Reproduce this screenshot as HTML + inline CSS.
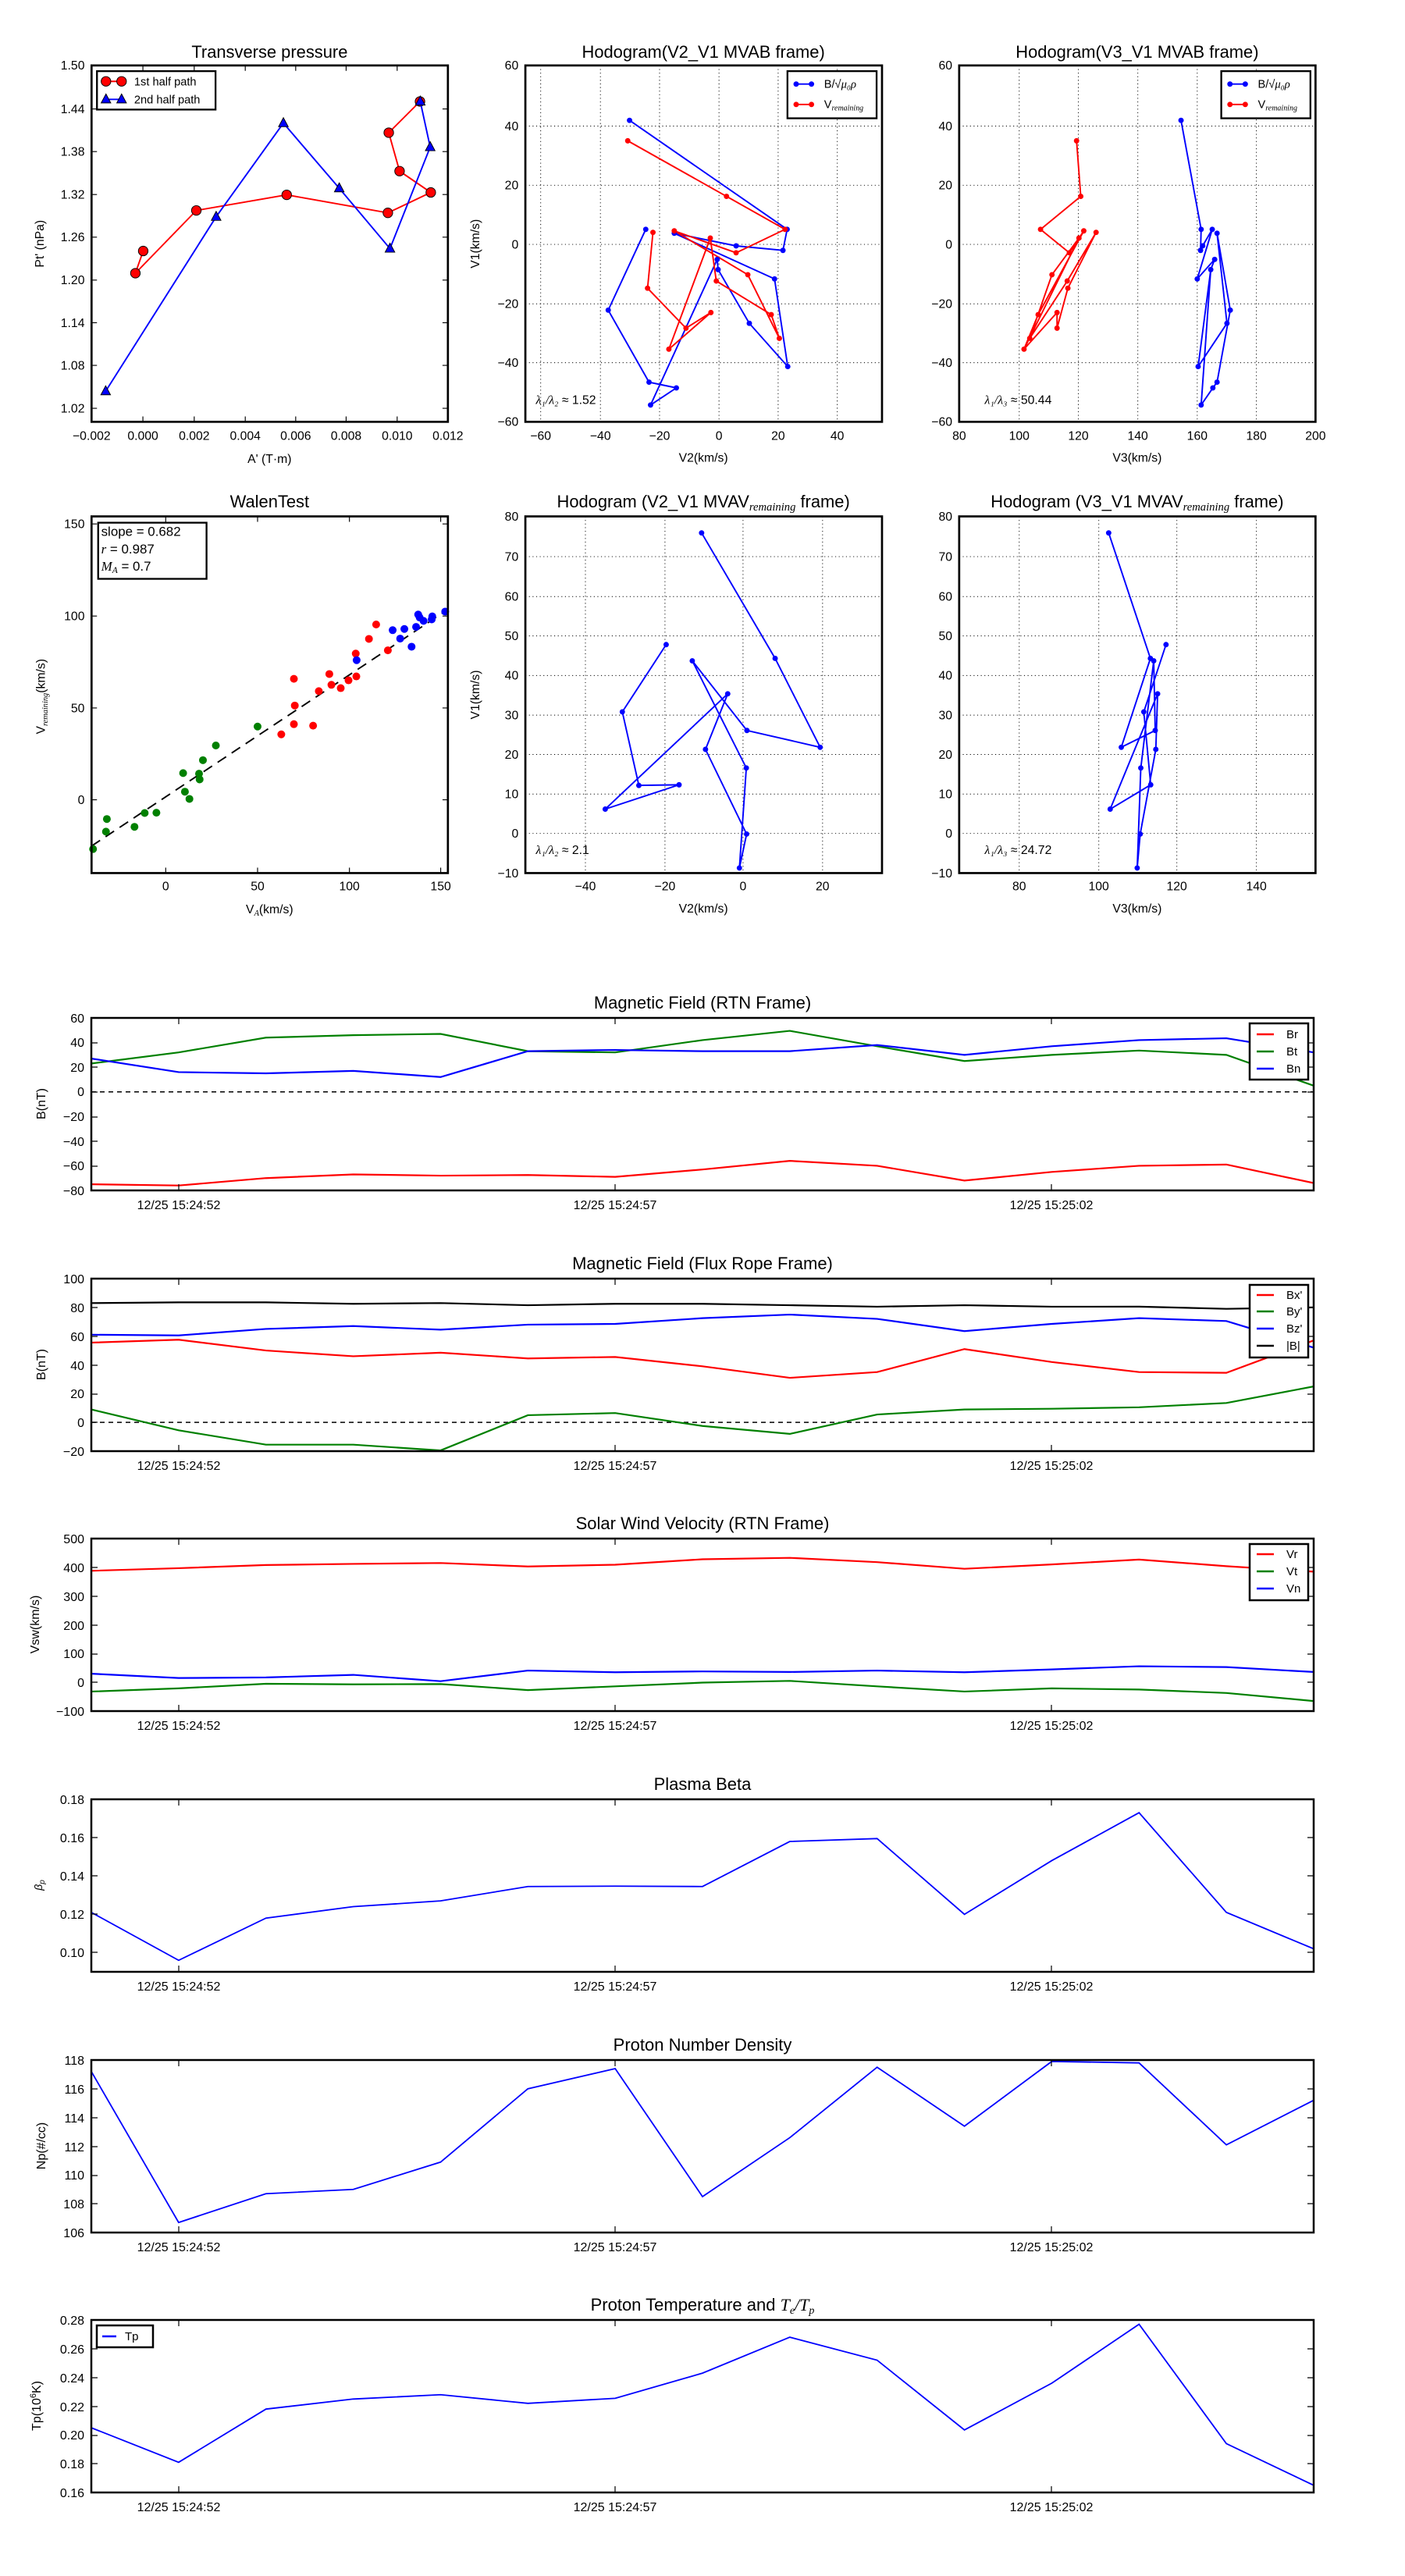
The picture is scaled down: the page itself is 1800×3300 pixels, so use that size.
<!DOCTYPE html>
<html><head><meta charset="utf-8"><style>
html,body{margin:0;padding:0;background:#fff}
svg{display:block}
text{font-family:"Liberation Sans","DejaVu Sans",sans-serif;fill:#000}
</style></head><body>
<svg width="1800" height="3300" viewBox="0 0 1800 3300" xmlns="http://www.w3.org/2000/svg">
<rect width="1800" height="3300" fill="#fff"/>

<!-- ===== Panel 1: Transverse pressure ===== -->
<g transform="translate(0,0) scale(0.3846)">
<text x="898" y="192" font-size="57" text-anchor="middle">Transverse pressure</text>
<g stroke="#000" stroke-width="3">
<path d="M305 363h18M305 505h18M305 648h18M305 790h18M305 933h18M305 1075h18M305 1217h18M305 1360h18M1492 363h-18M1492 505h-18M1492 648h-18M1492 790h-18M1492 933h-18M1492 1075h-18M1492 1217h-18M1492 1360h-18"/>
<path d="M476 1405v-18M647 1405v-18M817 1405v-18M985 1405v-18M1153 1405v-18M1323 1405v-18M476 218v18M647 218v18M817 218v18M985 218v18M1153 218v18M1323 218v18"/>
</g>
<g font-size="41" text-anchor="end">
<text x="282" y="232">1.50</text><text x="282" y="377">1.44</text><text x="282" y="519">1.38</text><text x="282" y="662">1.32</text><text x="282" y="804">1.26</text><text x="282" y="947">1.20</text><text x="282" y="1089">1.14</text><text x="282" y="1231">1.08</text><text x="282" y="1374">1.02</text>
</g>
<g font-size="41" text-anchor="middle">
<text x="305" y="1465">−0.002</text><text x="476" y="1465">0.000</text><text x="647" y="1465">0.002</text><text x="817" y="1465">0.004</text><text x="985" y="1465">0.006</text><text x="1153" y="1465">0.008</text><text x="1323" y="1465">0.010</text><text x="1492" y="1465">0.012</text>
<text x="898" y="1542">A' (T·m)</text>
<text transform="translate(145,812) rotate(-90)">Pt' (nPa)</text>
</g>
<polyline fill="none" stroke="#f00" stroke-width="5" points="477,836 451,910 654,701 955,649 1292,709 1435,641 1331,570 1295,442 1399,338"/>
<g fill="#f00" stroke="#000" stroke-width="2.5">
<circle cx="477" cy="836" r="16"/><circle cx="451" cy="910" r="16"/><circle cx="654" cy="701" r="16"/><circle cx="955" cy="649" r="16"/><circle cx="1292" cy="709" r="16"/><circle cx="1435" cy="641" r="16"/><circle cx="1331" cy="570" r="16"/><circle cx="1295" cy="442" r="16"/><circle cx="1399" cy="338" r="16"/>
</g>
<polyline fill="none" stroke="#00f" stroke-width="5" points="352,1303 720,722 944,410 1130,627 1299,828 1433,490 1400,338"/>
<g fill="#00f" stroke="#000" stroke-width="2.5">
<path d="M352 1285l16 30h-32z"/><path d="M720 704l16 30h-32z"/><path d="M944 392l16 30h-32z"/><path d="M1130 609l16 30h-32z"/><path d="M1299 810l16 30h-32z"/><path d="M1433 472l16 30h-32z"/><path d="M1400 320l16 30h-32z"/>
</g>
<rect x="323" y="237" width="395" height="128" fill="#fff" stroke="#000" stroke-width="6"/>
<path d="M353 271H405" stroke="#f00" stroke-width="5"/>
<circle cx="353" cy="271" r="16" fill="#f00" stroke="#000" stroke-width="2.5"/><circle cx="405" cy="271" r="16" fill="#f00" stroke="#000" stroke-width="2.5"/>
<path d="M353 331H405" stroke="#00f" stroke-width="5"/>
<path d="M353 313l16 30h-32z" fill="#00f" stroke="#000" stroke-width="2.5"/><path d="M405 313l16 30h-32z" fill="#00f" stroke="#000" stroke-width="2.5"/>
<text x="447" y="285" font-size="38">1st half path</text>
<text x="447" y="345" font-size="38">2nd half path</text>
<rect x="305" y="218" width="1187" height="1187" fill="none" stroke="#000" stroke-width="7"/>
</g>

<!-- ===== Panel 2: Hodogram V2_V1 MVAB ===== -->
<g transform="translate(600,0) scale(0.3846)">
<text x="783" y="192" font-size="57" text-anchor="middle">Hodogram(V2_V1 MVAB frame)</text>
<g stroke="#000" stroke-width="2.5" stroke-dasharray="3 9">
<path d="M241 218V1405M440 218V1405M637 218V1405M835 218V1405M1032 218V1405M1229 218V1405"/>
<path d="M190 420H1378M190 617H1378M190 814H1378M190 1012H1378M190 1208H1378"/>
</g>
<g font-size="41" text-anchor="end">
<text x="167" y="232">60</text><text x="167" y="434">40</text><text x="167" y="631">20</text><text x="167" y="828">0</text><text x="167" y="1026">−20</text><text x="167" y="1222">−40</text><text x="167" y="1419">−60</text>
</g>
<g font-size="41" text-anchor="middle">
<text x="241" y="1465">−60</text><text x="440" y="1465">−40</text><text x="637" y="1465">−20</text><text x="835" y="1465">0</text><text x="1032" y="1465">20</text><text x="1229" y="1465">40</text>
<text x="783" y="1538">V2(km/s)</text>
<text transform="translate(36,812) rotate(-90)">V1(km/s)</text>
</g>
<g fill="none" stroke-width="5">
<polyline stroke="#00f" points="537,401 1062,764 1048,834 892,819 686,777 1020,929 1064,1221 936,1077 832,898 829,864 607,1349 693,1292 602,1273 466,1033 591,764"/>
<polyline stroke="#f00" points="531,469 860,654 1055,764 892,842 686,769 931,915 1036,1127 1009,1048 826,936 806,793 668,1163 808,1041 725,1093 597,960 615,774"/>
</g>
<g fill="#00f"><circle cx="537" cy="401" r="9"/><circle cx="1062" cy="764" r="9"/><circle cx="1048" cy="834" r="9"/><circle cx="892" cy="819" r="9"/><circle cx="686" cy="777" r="9"/><circle cx="1020" cy="929" r="9"/><circle cx="1064" cy="1221" r="9"/><circle cx="936" cy="1077" r="9"/><circle cx="832" cy="898" r="9"/><circle cx="829" cy="864" r="9"/><circle cx="607" cy="1349" r="9"/><circle cx="693" cy="1292" r="9"/><circle cx="602" cy="1273" r="9"/><circle cx="466" cy="1033" r="9"/><circle cx="591" cy="764" r="9"/></g>
<g fill="#f00"><circle cx="531" cy="469" r="9"/><circle cx="860" cy="654" r="9"/><circle cx="1055" cy="764" r="9"/><circle cx="892" cy="842" r="9"/><circle cx="686" cy="769" r="9"/><circle cx="931" cy="915" r="9"/><circle cx="1036" cy="1127" r="9"/><circle cx="1009" cy="1048" r="9"/><circle cx="826" cy="936" r="9"/><circle cx="806" cy="793" r="9"/><circle cx="668" cy="1163" r="9"/><circle cx="808" cy="1041" r="9"/><circle cx="725" cy="1093" r="9"/><circle cx="597" cy="960" r="9"/><circle cx="615" cy="774" r="9"/></g>
<rect x="1063" y="237" width="297" height="157" fill="#fff" stroke="#000" stroke-width="6"/>
<path d="M1090 280H1145" stroke="#00f" stroke-width="5"/><circle cx="1092" cy="280" r="9" fill="#00f"/><circle cx="1143" cy="280" r="9" fill="#00f"/>
<path d="M1090 348H1145" stroke="#f00" stroke-width="5"/><circle cx="1092" cy="348" r="9" fill="#f00"/><circle cx="1143" cy="348" r="9" fill="#f00"/>
<text x="1185" y="292" font-size="38">B/√<tspan font-style="italic" font-family="Liberation Serif,serif">μ₀ρ</tspan></text>
<text x="1185" y="360" font-size="38">V<tspan font-size="26" font-style="italic" font-family="Liberation Serif,serif" dy="8">remaining</tspan></text>
<text x="225" y="1345" font-size="41"><tspan font-style="italic" font-family="Liberation Serif,serif">λ₁/λ₂</tspan> ≈ 1.52</text>
<rect x="190" y="218" width="1188" height="1187" fill="none" stroke="#000" stroke-width="7"/>
</g>

<!-- ===== Panel 3: Hodogram V3_V1 MVAB ===== -->
<g transform="translate(1200,0) scale(0.3846)">
<text x="668" y="192" font-size="57" text-anchor="middle">Hodogram(V3_V1 MVAB frame)</text>
<g stroke="#000" stroke-width="2.5" stroke-dasharray="3 9">
<path d="M275 218V1405M472 218V1405M670 218V1405M868 218V1405M1065 218V1405"/>
<path d="M75 420H1262M75 617H1262M75 814H1262M75 1012H1262M75 1208H1262"/>
</g>
<g font-size="41" text-anchor="end">
<text x="52" y="232">60</text><text x="52" y="434">40</text><text x="52" y="631">20</text><text x="52" y="828">0</text><text x="52" y="1026">−20</text><text x="52" y="1222">−40</text><text x="52" y="1419">−60</text>
</g>
<g font-size="41" text-anchor="middle">
<text x="75" y="1465">80</text><text x="275" y="1465">100</text><text x="472" y="1465">120</text><text x="670" y="1465">140</text><text x="868" y="1465">160</text><text x="1065" y="1465">180</text><text x="1262" y="1465">200</text>
<text x="668" y="1538">V3(km/s)</text>
</g>
<g fill="none" stroke-width="5">
<polyline stroke="#f00" points="466,469 480,654 346,764 442,842 490,769 338,1048 291,1163 474,793 384,915 310,1127 435,936 531,774 437,960 401,1093 401,1041 291,1163"/>
<polyline stroke="#00f" points="814,401 881,764 879,834 886,819 918,764 868,929 926,864 913,898 871,1221 967,1077 934,777 978,1033 934,1273 920,1292 881,1349 913,898"/>
</g>
<g fill="#f00"><circle cx="466" cy="469" r="9"/><circle cx="480" cy="654" r="9"/><circle cx="346" cy="764" r="9"/><circle cx="442" cy="842" r="9"/><circle cx="490" cy="769" r="9"/><circle cx="338" cy="1048" r="9"/><circle cx="291" cy="1163" r="9"/><circle cx="474" cy="793" r="9"/><circle cx="384" cy="915" r="9"/><circle cx="310" cy="1127" r="9"/><circle cx="435" cy="936" r="9"/><circle cx="531" cy="774" r="9"/><circle cx="437" cy="960" r="9"/><circle cx="401" cy="1093" r="9"/><circle cx="401" cy="1041" r="9"/></g>
<g fill="#00f"><circle cx="814" cy="401" r="9"/><circle cx="881" cy="764" r="9"/><circle cx="879" cy="834" r="9"/><circle cx="886" cy="819" r="9"/><circle cx="918" cy="764" r="9"/><circle cx="868" cy="929" r="9"/><circle cx="926" cy="864" r="9"/><circle cx="913" cy="898" r="9"/><circle cx="871" cy="1221" r="9"/><circle cx="967" cy="1077" r="9"/><circle cx="934" cy="777" r="9"/><circle cx="978" cy="1033" r="9"/><circle cx="934" cy="1273" r="9"/><circle cx="920" cy="1292" r="9"/><circle cx="881" cy="1349" r="9"/></g>
<rect x="948" y="237" width="297" height="157" fill="#fff" stroke="#000" stroke-width="6"/>
<path d="M975 280H1030" stroke="#00f" stroke-width="5"/><circle cx="977" cy="280" r="9" fill="#00f"/><circle cx="1028" cy="280" r="9" fill="#00f"/>
<path d="M975 348H1030" stroke="#f00" stroke-width="5"/><circle cx="977" cy="348" r="9" fill="#f00"/><circle cx="1028" cy="348" r="9" fill="#f00"/>
<text x="1070" y="292" font-size="38">B/√<tspan font-style="italic" font-family="Liberation Serif,serif">μ₀ρ</tspan></text>
<text x="1070" y="360" font-size="38">V<tspan font-size="26" font-style="italic" font-family="Liberation Serif,serif" dy="8">remaining</tspan></text>
<text x="160" y="1345" font-size="41"><tspan font-style="italic" font-family="Liberation Serif,serif">λ₁/λ₃</tspan> ≈ 50.44</text>
<rect x="75" y="218" width="1187" height="1187" fill="none" stroke="#000" stroke-width="7"/>
</g>

<!-- ===== Panel 4: WalenTest ===== -->
<g transform="translate(0,600) scale(0.3846)">
<text x="898" y="130" font-size="57" text-anchor="middle">WalenTest</text>
<g stroke="#000" stroke-width="3">
<path d="M305 185h18M305 492h18M305 798h18M305 1104h18M1492 185h-18M1492 492h-18M1492 798h-18M1492 1104h-18"/>
<path d="M552 1348v-18M858 1348v-18M1164 1348v-18M1468 1348v-18M552 160v18M858 160v18M1164 160v18M1468 160v18"/>
</g>
<g font-size="41" text-anchor="end">
<text x="282" y="199">150</text><text x="282" y="506">100</text><text x="282" y="812">50</text><text x="282" y="1118">0</text>
</g>
<g font-size="41" text-anchor="middle">
<text x="552" y="1405">0</text><text x="858" y="1405">50</text><text x="1164" y="1405">100</text><text x="1468" y="1405">150</text>
<text x="898" y="1482">V<tspan font-size="27" font-style="italic" font-family="Liberation Serif,serif" dy="8">A</tspan><tspan dy="-8">(km/s)</tspan></text>
<text transform="translate(150,760) rotate(-90)">V<tspan font-size="27" font-style="italic" font-family="Liberation Serif,serif" dy="8">remaining</tspan><tspan dy="-8">(km/s)</tspan></text>
</g>
<path d="M305 1258L1492 470" stroke="#000" stroke-width="5" stroke-dasharray="34 22"/>
<g fill="#008000"><circle cx="310" cy="1268" r="13"/><circle cx="356" cy="1168" r="13"/><circle cx="353" cy="1210" r="13"/><circle cx="448" cy="1194" r="13"/><circle cx="482" cy="1148" r="13"/><circle cx="521" cy="1147" r="13"/><circle cx="610" cy="1015" r="13"/><circle cx="616" cy="1077" r="13"/><circle cx="631" cy="1101" r="13"/><circle cx="663" cy="1017" r="13"/><circle cx="665" cy="1036" r="13"/><circle cx="676" cy="972" r="13"/><circle cx="719" cy="923" r="13"/><circle cx="858" cy="860" r="13"/></g>
<g fill="#f00"><circle cx="937" cy="886" r="13"/><circle cx="979" cy="701" r="13"/><circle cx="982" cy="790" r="13"/><circle cx="979" cy="852" r="13"/><circle cx="1043" cy="857" r="13"/><circle cx="1062" cy="742" r="13"/><circle cx="1097" cy="685" r="13"/><circle cx="1104" cy="721" r="13"/><circle cx="1135" cy="732" r="13"/><circle cx="1161" cy="706" r="13"/><circle cx="1187" cy="693" r="13"/><circle cx="1185" cy="617" r="13"/><circle cx="1229" cy="568" r="13"/><circle cx="1253" cy="520" r="13"/><circle cx="1292" cy="606" r="13"/></g>
<g fill="#00f"><circle cx="1188" cy="639" r="13"/><circle cx="1308" cy="539" r="13"/><circle cx="1333" cy="567" r="13"/><circle cx="1347" cy="535" r="13"/><circle cx="1371" cy="594" r="13"/><circle cx="1386" cy="528" r="13"/><circle cx="1393" cy="487" r="13"/><circle cx="1398" cy="497" r="13"/><circle cx="1411" cy="508" r="13"/><circle cx="1438" cy="503" r="13"/><circle cx="1440" cy="493" r="13"/><circle cx="1483" cy="477" r="13"/></g>
<rect x="327" y="181" width="361" height="187" fill="#fff" stroke="#000" stroke-width="6"/>
<text x="337" y="225" font-size="44">slope = 0.682</text>
<text x="337" y="283" font-size="44"><tspan font-style="italic" font-family="Liberation Serif,serif">r</tspan> = 0.987</text>
<text x="337" y="341" font-size="44"><tspan font-style="italic" font-family="Liberation Serif,serif">M<tspan font-size="30" dy="8">A</tspan></tspan><tspan dy="-8"> = 0.7</tspan></text>
<rect x="305" y="160" width="1187" height="1188" fill="none" stroke="#000" stroke-width="7"/>
</g>

<!-- ===== Panel 5: Hodogram V2_V1 MVAV ===== -->
<g transform="translate(600,600) scale(0.3846)">
<text x="783" y="130" font-size="57" text-anchor="middle">Hodogram (V2_V1 MVAV<tspan font-size="38" font-style="italic" font-family="Liberation Serif,serif" dy="10">remaining</tspan><tspan dy="-10"> frame)</tspan></text>
<g stroke="#000" stroke-width="2.5" stroke-dasharray="3 9">
<path d="M390 160V1348M655 160V1348M915 160V1348M1180 160V1348"/>
<path d="M190 294H1378M190 427H1378M190 558H1378M190 690H1378M190 822H1378M190 953H1378M190 1085H1378M190 1216H1378"/>
</g>
<g font-size="41" text-anchor="end">
<text x="167" y="174">80</text><text x="167" y="308">70</text><text x="167" y="441">60</text><text x="167" y="572">50</text><text x="167" y="704">40</text><text x="167" y="836">30</text><text x="167" y="967">20</text><text x="167" y="1099">10</text><text x="167" y="1230">0</text><text x="167" y="1362">−10</text>
</g>
<g font-size="41" text-anchor="middle">
<text x="390" y="1405">−40</text><text x="655" y="1405">−20</text><text x="915" y="1405">0</text><text x="1180" y="1405">20</text>
<text x="783" y="1480">V2(km/s)</text>
<text transform="translate(36,754) rotate(-90)">V1(km/s)</text>
</g>
<polyline fill="none" stroke="#00f" stroke-width="5" points="777,215 1022,633 1172,929 928,873 746,641 926,998 903,1331 927,1218 790,936 864,751 456,1135 702,1054 568,1056 513,811 659,587"/>
<g fill="#00f"><circle cx="777" cy="215" r="9"/><circle cx="1022" cy="633" r="9"/><circle cx="1172" cy="929" r="9"/><circle cx="928" cy="873" r="9"/><circle cx="746" cy="641" r="9"/><circle cx="926" cy="998" r="9"/><circle cx="903" cy="1331" r="9"/><circle cx="927" cy="1218" r="9"/><circle cx="790" cy="936" r="9"/><circle cx="864" cy="751" r="9"/><circle cx="456" cy="1135" r="9"/><circle cx="702" cy="1054" r="9"/><circle cx="568" cy="1056" r="9"/><circle cx="513" cy="811" r="9"/><circle cx="659" cy="587" r="9"/></g>
<text x="225" y="1285" font-size="41"><tspan font-style="italic" font-family="Liberation Serif,serif">λ₁/λ₂</tspan> ≈ 2.1</text>
<rect x="190" y="160" width="1188" height="1188" fill="none" stroke="#000" stroke-width="7"/>
</g>

<!-- ===== Panel 6: Hodogram V3_V1 MVAV ===== -->
<g transform="translate(1200,600) scale(0.3846)">
<text x="668" y="130" font-size="57" text-anchor="middle">Hodogram (V3_V1 MVAV<tspan font-size="38" font-style="italic" font-family="Liberation Serif,serif" dy="10">remaining</tspan><tspan dy="-10"> frame)</tspan></text>
<g stroke="#000" stroke-width="2.5" stroke-dasharray="3 9">
<path d="M275 160V1348M540 160V1348M800 160V1348M1065 160V1348"/>
<path d="M75 294H1262M75 427H1262M75 558H1262M75 690H1262M75 822H1262M75 953H1262M75 1085H1262M75 1216H1262"/>
</g>
<g font-size="41" text-anchor="end">
<text x="52" y="174">80</text><text x="52" y="308">70</text><text x="52" y="441">60</text><text x="52" y="572">50</text><text x="52" y="704">40</text><text x="52" y="836">30</text><text x="52" y="967">20</text><text x="52" y="1099">10</text><text x="52" y="1230">0</text><text x="52" y="1362">−10</text>
</g>
<g font-size="41" text-anchor="middle">
<text x="275" y="1405">80</text><text x="540" y="1405">100</text><text x="800" y="1405">120</text><text x="1065" y="1405">140</text>
<text x="668" y="1480">V3(km/s)</text>
</g>
<polyline fill="none" stroke="#00f" stroke-width="5" points="573,215 712,633 615,929 728,873 723,641 680,998 668,1331 678,1218 730,936 736,751 578,1135 713,1054 690,811 764,587"/>
<g fill="#00f"><circle cx="573" cy="215" r="9"/><circle cx="712" cy="633" r="9"/><circle cx="615" cy="929" r="9"/><circle cx="728" cy="873" r="9"/><circle cx="723" cy="641" r="9"/><circle cx="680" cy="998" r="9"/><circle cx="668" cy="1331" r="9"/><circle cx="678" cy="1218" r="9"/><circle cx="730" cy="936" r="9"/><circle cx="736" cy="751" r="9"/><circle cx="578" cy="1135" r="9"/><circle cx="713" cy="1054" r="9"/><circle cx="690" cy="811" r="9"/><circle cx="764" cy="587" r="9"/></g>
<text x="160" y="1285" font-size="41"><tspan font-style="italic" font-family="Liberation Serif,serif">λ₁/λ₃</tspan> ≈ 24.72</text>
<rect x="75" y="160" width="1187" height="1188" fill="none" stroke="#000" stroke-width="7"/>
</g>

<!-- ===== Time series ===== -->
<!-- RTN B: top 1304 range -80..60 -->
<text x="900" y="1292" font-size="22" text-anchor="middle">Magnetic Field (RTN Frame)</text>
<svg x="117" y="1304" width="1566" height="221" viewBox="0 -60 14 140" preserveAspectRatio="none" overflow="hidden">
<path d="M0 0H14" stroke="#000" stroke-width="1.5" stroke-dasharray="6 5" vector-effect="non-scaling-stroke"/>
<g fill="none" stroke-width="2.2" vector-effect="non-scaling-stroke">
<polyline vector-effect="non-scaling-stroke" stroke="#f00" points="0,75 1,76 2,70 3,67 4,68 5,67.5 6,69 7,63 8,56 9,60 10,72 11,65 12,60 13,59 14,74"/>
<polyline vector-effect="non-scaling-stroke" stroke="#008000" points="0,-23 1,-32 2,-44 3,-46 4,-47 5,-33 6,-32 7,-42 8,-49.5 9,-37 10,-25 11,-30 12,-33.5 13,-30 14,-5"/>
<polyline vector-effect="non-scaling-stroke" stroke="#00f" points="0,-27 1,-16 2,-15 3,-17 4,-12 5,-33 6,-34 7,-33 8,-33 9,-38 10,-30 11,-37 12,-42 13,-43.5 14,-32"/>
</g></svg>
<g font-size="16" text-anchor="end">
<text x="108" y="1310">60</text><text x="108" y="1341">40</text><text x="108" y="1373">20</text><text x="108" y="1404">0</text><text x="108" y="1436">−20</text><text x="108" y="1468">−40</text><text x="108" y="1499">−60</text><text x="108" y="1531">−80</text>
</g>
<text transform="translate(58,1414) rotate(-90)" font-size="16" text-anchor="middle">B(nT)</text>
<path d="M117 1336h8M117 1367h8M117 1399h8M117 1431h8M117 1462h8M117 1494h8M1683 1336h-8M1683 1367h-8M1683 1399h-8M1683 1431h-8M1683 1462h-8M1683 1494h-8M229 1525v-8M788 1525v-8M1347 1525v-8M229 1304v8M788 1304v8M1347 1304v8" stroke="#000" stroke-width="1.2"/>
<rect x="1601" y="1311" width="75" height="72" fill="#fff" stroke="#000" stroke-width="2.5"/>
<path d="M1610 1325h22" stroke="#f00" stroke-width="2.5"/><path d="M1610 1347h22" stroke="#008000" stroke-width="2.5"/><path d="M1610 1369h22" stroke="#00f" stroke-width="2.5"/>
<g font-size="15"><text x="1648" y="1330">Br</text><text x="1648" y="1352">Bt</text><text x="1648" y="1374">Bn</text></g>
<rect x="117" y="1304" width="1566" height="221" fill="none" stroke="#000" stroke-width="2.5"/>
<g font-size="16" text-anchor="middle"><text x="229" y="1549">12/25 15:24:52</text><text x="788" y="1549">12/25 15:24:57</text><text x="1347" y="1549">12/25 15:25:02</text></g>

<!-- Flux rope B: top 1638 range -20..100 -->
<text x="900" y="1626" font-size="22" text-anchor="middle">Magnetic Field (Flux Rope Frame)</text>
<svg x="117" y="1638" width="1566" height="221" viewBox="0 -100 14 120" preserveAspectRatio="none" overflow="hidden">
<path d="M0 0H14" stroke="#000" stroke-width="1.5" stroke-dasharray="6 5" vector-effect="non-scaling-stroke"/>
<g fill="none" stroke-width="2.2">
<polyline vector-effect="non-scaling-stroke" stroke="#f00" points="0,-55.5 1,-57.5 2,-50 3,-46 4,-48.5 5,-44.5 6,-45.5 7,-39 8,-31 9,-35 10,-51 11,-42 12,-35 13,-34.5 14,-57"/>
<polyline vector-effect="non-scaling-stroke" stroke="#008000" points="0,-9 1,5.5 2,15.5 3,15.5 4,19.5 5,-5 6,-6.5 7,2.5 8,8 9,-5.5 10,-9 11,-9.5 12,-10.5 13,-13.5 14,-25"/>
<polyline vector-effect="non-scaling-stroke" stroke="#00f" points="0,-61 1,-60.5 2,-65 3,-67 4,-64.5 5,-68 6,-68.5 7,-72.5 8,-75 9,-72 10,-63.5 11,-68.5 12,-72.5 13,-70.5 14,-52"/>
<polyline vector-effect="non-scaling-stroke" stroke="#000" points="0,-83 1,-83.5 2,-83.5 3,-82.5 4,-83 5,-81.5 6,-82.5 7,-82.5 8,-81.5 9,-80.5 10,-81.5 11,-80.5 12,-80.5 13,-79 14,-80"/>
</g></svg>
<g font-size="16" text-anchor="end">
<text x="108" y="1644">100</text><text x="108" y="1681">80</text><text x="108" y="1718">60</text><text x="108" y="1755">40</text><text x="108" y="1791">20</text><text x="108" y="1828">0</text><text x="108" y="1865">−20</text>
</g>
<text transform="translate(58,1748) rotate(-90)" font-size="16" text-anchor="middle">B(nT)</text>
<path d="M117 1675h8M117 1712h8M117 1749h8M117 1786h8M117 1822h8M1683 1675h-8M1683 1712h-8M1683 1749h-8M1683 1786h-8M1683 1822h-8M229 1859v-8M788 1859v-8M1347 1859v-8M229 1638v8M788 1638v8M1347 1638v8" stroke="#000" stroke-width="1.2"/>
<rect x="1601" y="1646" width="75" height="93" fill="#fff" stroke="#000" stroke-width="2.5"/>
<path d="M1610 1659h22" stroke="#f00" stroke-width="2.5"/><path d="M1610 1680h22" stroke="#008000" stroke-width="2.5"/><path d="M1610 1702h22" stroke="#00f" stroke-width="2.5"/><path d="M1610 1724h22" stroke="#000" stroke-width="2.5"/>
<g font-size="15"><text x="1648" y="1664">Bx'</text><text x="1648" y="1685">By'</text><text x="1648" y="1707">Bz'</text><text x="1648" y="1729">|B|</text></g>
<rect x="117" y="1638" width="1566" height="221" fill="none" stroke="#000" stroke-width="2.5"/>
<g font-size="16" text-anchor="middle"><text x="229" y="1883">12/25 15:24:52</text><text x="788" y="1883">12/25 15:24:57</text><text x="1347" y="1883">12/25 15:25:02</text></g>

<!-- Velocity: top 1971 range -100..500 -->
<text x="900" y="1959" font-size="22" text-anchor="middle">Solar Wind Velocity (RTN Frame)</text>
<svg x="117" y="1971" width="1566" height="221" viewBox="0 -500 14 600" preserveAspectRatio="none" overflow="hidden">
<g fill="none" stroke-width="2.2">
<polyline vector-effect="non-scaling-stroke" stroke="#f00" points="0,-388 1,-397 2,-408 3,-412 4,-415 5,-403 6,-409 7,-428 8,-433 9,-418 10,-395 11,-410 12,-427 13,-404 14,-385"/>
<polyline vector-effect="non-scaling-stroke" stroke="#008000" points="0,32 1,21 2,5 3,7 4,6 5,27 6,14 7,1 8,-5 9,14 10,32 11,21 12,25 13,37 14,65"/>
<polyline vector-effect="non-scaling-stroke" stroke="#00f" points="0,-30 1,-15 2,-17 3,-26 4,-4 5,-41 6,-35 7,-38 8,-36 9,-41 10,-35 11,-45 12,-56 13,-53 14,-36"/>
</g></svg>
<g font-size="16" text-anchor="end">
<text x="108" y="1977">500</text><text x="108" y="2014">400</text><text x="108" y="2051">300</text><text x="108" y="2088">200</text><text x="108" y="2124">100</text><text x="108" y="2161">0</text><text x="108" y="2198">−100</text>
</g>
<text transform="translate(50,2081) rotate(-90)" font-size="16" text-anchor="middle">Vsw(km/s)</text>
<path d="M117 2008h8M117 2045h8M117 2082h8M117 2119h8M117 2155h8M1683 2008h-8M1683 2045h-8M1683 2082h-8M1683 2119h-8M1683 2155h-8M229 2192v-8M788 2192v-8M1347 2192v-8M229 1971v8M788 1971v8M1347 1971v8" stroke="#000" stroke-width="1.2"/>
<rect x="1601" y="1978" width="75" height="72" fill="#fff" stroke="#000" stroke-width="2.5"/>
<path d="M1610 1991h22" stroke="#f00" stroke-width="2.5"/><path d="M1610 2013h22" stroke="#008000" stroke-width="2.5"/><path d="M1610 2035h22" stroke="#00f" stroke-width="2.5"/>
<g font-size="15"><text x="1648" y="1996">Vr</text><text x="1648" y="2018">Vt</text><text x="1648" y="2040">Vn</text></g>
<rect x="117" y="1971" width="1566" height="221" fill="none" stroke="#000" stroke-width="2.5"/>
<g font-size="16" text-anchor="middle"><text x="229" y="2216">12/25 15:24:52</text><text x="788" y="2216">12/25 15:24:57</text><text x="1347" y="2216">12/25 15:25:02</text></g>

<!-- Plasma beta: top 2305 range 0.09..0.18 (x1000) -->
<text x="900" y="2293" font-size="22" text-anchor="middle">Plasma Beta</text>
<svg x="117" y="2305" width="1566" height="221" viewBox="0 -180 14 90" preserveAspectRatio="none" overflow="hidden">
<polyline fill="none" vector-effect="non-scaling-stroke" stroke="#00f" stroke-width="1.8" points="0,-121 1,-96 2,-118 3,-124 4,-127 5,-134.5 6,-134.7 7,-134.5 8,-158 9,-159.5 10,-120 11,-148 12,-173 13,-121 14,-102"/>
</svg>
<g font-size="16" text-anchor="end">
<text x="108" y="2311">0.18</text><text x="108" y="2360">0.16</text><text x="108" y="2409">0.14</text><text x="108" y="2458">0.12</text><text x="108" y="2507">0.10</text>
</g>
<text transform="translate(54,2415) rotate(-90)" font-size="14" text-anchor="middle" font-style="italic" font-family="Liberation Serif,serif">β<tspan font-size="10" dy="3">p</tspan></text>
<path d="M117 2354h8M117 2403h8M117 2452h8M117 2501h8M1683 2354h-8M1683 2403h-8M1683 2452h-8M1683 2501h-8M229 2526v-8M788 2526v-8M1347 2526v-8M229 2305v8M788 2305v8M1347 2305v8" stroke="#000" stroke-width="1.2"/>
<rect x="117" y="2305" width="1566" height="221" fill="none" stroke="#000" stroke-width="2.5"/>
<g font-size="16" text-anchor="middle"><text x="229" y="2550">12/25 15:24:52</text><text x="788" y="2550">12/25 15:24:57</text><text x="1347" y="2550">12/25 15:25:02</text></g>

<!-- Density: top 2639 range 106..118 -->
<text x="900" y="2627" font-size="22" text-anchor="middle">Proton Number Density</text>
<svg x="117" y="2639" width="1566" height="221" viewBox="0 -118 14 12" preserveAspectRatio="none" overflow="hidden">
<polyline fill="none" vector-effect="non-scaling-stroke" stroke="#00f" stroke-width="1.8" points="0,-117.2 1,-106.7 2,-108.7 3,-109 4,-110.9 5,-116 6,-117.4 7,-108.5 8,-112.6 9,-117.5 10,-113.4 11,-117.9 12,-117.8 13,-112.1 14,-115.2"/>
</svg>
<g font-size="16" text-anchor="end">
<text x="108" y="2645">118</text><text x="108" y="2682">116</text><text x="108" y="2719">114</text><text x="108" y="2756">112</text><text x="108" y="2792">110</text><text x="108" y="2829">108</text><text x="108" y="2866">106</text>
</g>
<text transform="translate(58,2749) rotate(-90)" font-size="16" text-anchor="middle">Np(#/cc)</text>
<path d="M117 2676h8M117 2713h8M117 2750h8M117 2787h8M117 2823h8M1683 2676h-8M1683 2713h-8M1683 2750h-8M1683 2787h-8M1683 2823h-8M229 2860v-8M788 2860v-8M1347 2860v-8M229 2639v8M788 2639v8M1347 2639v8" stroke="#000" stroke-width="1.2"/>
<rect x="117" y="2639" width="1566" height="221" fill="none" stroke="#000" stroke-width="2.5"/>
<g font-size="16" text-anchor="middle"><text x="229" y="2884">12/25 15:24:52</text><text x="788" y="2884">12/25 15:24:57</text><text x="1347" y="2884">12/25 15:25:02</text></g>

<!-- Temperature: top 2972 range 0.16..0.28 (x1000) -->
<text x="900" y="2960" font-size="22" text-anchor="middle">Proton Temperature and <tspan font-style="italic" font-family="Liberation Serif,serif">T<tspan font-size="14" dy="4">e</tspan><tspan dy="-4">/T</tspan><tspan font-size="14" dy="4">p</tspan></tspan></text>
<svg x="117" y="2972" width="1566" height="221" viewBox="0 -280 14 120" preserveAspectRatio="none" overflow="hidden">
<polyline fill="none" vector-effect="non-scaling-stroke" stroke="#00f" stroke-width="1.8" points="0,-205 1,-181 2,-218 3,-225 4,-228 5,-222 6,-225.5 7,-243 8,-268 9,-252 10,-203.5 11,-236 12,-277 13,-194 14,-165"/>
</svg>
<g font-size="16" text-anchor="end">
<text x="108" y="2978">0.28</text><text x="108" y="3015">0.26</text><text x="108" y="3052">0.24</text><text x="108" y="3089">0.22</text><text x="108" y="3125">0.20</text><text x="108" y="3162">0.18</text><text x="108" y="3199">0.16</text>
</g>
<text transform="translate(52,3082) rotate(-90)" font-size="16" text-anchor="middle">Tp(10<tspan font-size="11" dy="-6">6</tspan><tspan dy="6">K)</tspan></text>
<path d="M117 3009h8M117 3046h8M117 3083h8M117 3120h8M117 3156h8M1683 3009h-8M1683 3046h-8M1683 3083h-8M1683 3120h-8M1683 3156h-8M229 3193v-8M788 3193v-8M1347 3193v-8M229 2972v8M788 2972v8M1347 2972v8" stroke="#000" stroke-width="1.2"/>
<rect x="124" y="2979" width="72" height="28" fill="#fff" stroke="#000" stroke-width="2.5"/>
<path d="M131 2993h18" stroke="#00f" stroke-width="2.5"/>
<text x="160" y="2998" font-size="15">Tp</text>
<rect x="117" y="2972" width="1566" height="221" fill="none" stroke="#000" stroke-width="2.5"/>
<g font-size="16" text-anchor="middle"><text x="229" y="3217">12/25 15:24:52</text><text x="788" y="3217">12/25 15:24:57</text><text x="1347" y="3217">12/25 15:25:02</text></g>
</svg>
</body></html>
